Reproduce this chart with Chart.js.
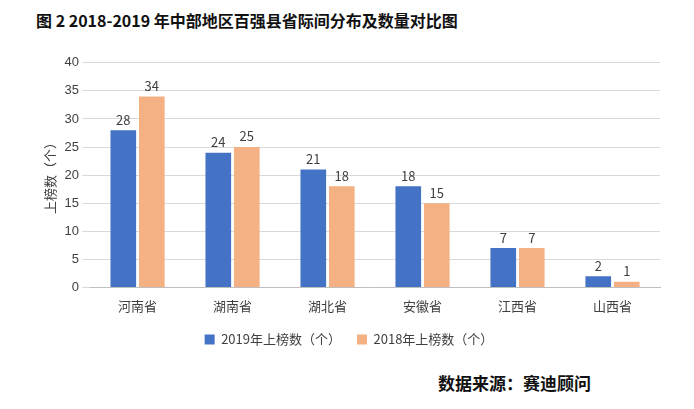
<!DOCTYPE html>
<html><head><meta charset="utf-8">
<script src="https://cdn.jsdelivr.net/npm/chart.js@4/dist/chart.umd.min.js"></script>
<style>
body{margin:0;background:#fff;font-family:"Noto Sans CJK SC",sans-serif;}
#wrap{position:relative;width:694px;height:409px;}
#title{position:absolute;left:36px;top:8px;font-size:16px;font-weight:bold;color:#111;}
#src{position:absolute;left:438px;top:370px;font-size:17px;font-weight:bold;color:#111;}
#box{position:absolute;left:0;top:52px;width:694px;height:304px;}
</style></head><body>
<div id="wrap">
<div id="title">图 2 2018-2019 年中部地区百强县省际间分布及数量对比图</div>
<div id="box"><canvas id="c"></canvas></div>
<div id="src">数据来源：赛迪顾问</div>
</div>
<script>
const provinces = ['河南省','湖南省','湖北省','安徽省','江西省','山西省'];
const counts2019 = [28,24,21,18,7,2];
const counts2018 = [34,25,18,15,7,1];

const barLabels = {
  id:'barLabels',
  afterDatasetsDraw(chart){
    const ctx = chart.ctx;
    ctx.save();
    ctx.font = '13px "Noto Sans CJK SC"';
    ctx.fillStyle = '#404040';
    ctx.textAlign = 'center';
    ctx.textBaseline = 'bottom';
    chart.data.datasets.forEach((ds,i)=>{
      chart.getDatasetMeta(i).data.forEach((bar,j)=>{
        ctx.fillText(ds.data[j], bar.x, bar.y-4);
      });
    });
    ctx.restore();
  }
};

new Chart(document.getElementById('c'), {
  type:'bar',
  data:{labels:provinces, datasets:[
    {label:'2019年上榜数（个）', data:counts2019, backgroundColor:'#4472C4', categoryPercentage:0.6, barPercentage:0.9},
    {label:'2018年上榜数（个）', data:counts2018, backgroundColor:'#F4B183', categoryPercentage:0.6, barPercentage:0.9}
  ]},
  options:{
    responsive:true, maintainAspectRatio:false, animation:false,
    layout:{padding:{left:38,right:34,top:0,bottom:0}},
    plugins:{
      legend:{position:'bottom', labels:{boxWidth:10,boxHeight:10,color:'#404040',font:{size:13,family:'"Noto Sans CJK SC"'},padding:16}},
      tooltip:{enabled:false}
    },
    scales:{
      x:{grid:{display:false}, border:{color:'#bfbfbf'}, ticks:{color:'#404040',font:{size:13,family:'"Noto Sans CJK SC"'}}},
      y:{min:0,max:40,ticks:{stepSize:5,color:'#404040',font:{size:13}}, grid:{color:'#d9d9d9'}, border:{display:false},
         title:{display:true,text:'上榜数（个）',color:'#404040',font:{size:13,family:'"Noto Sans CJK SC"'}}}
    }
  },
  plugins:[barLabels]
});
</script>
</body></html>
